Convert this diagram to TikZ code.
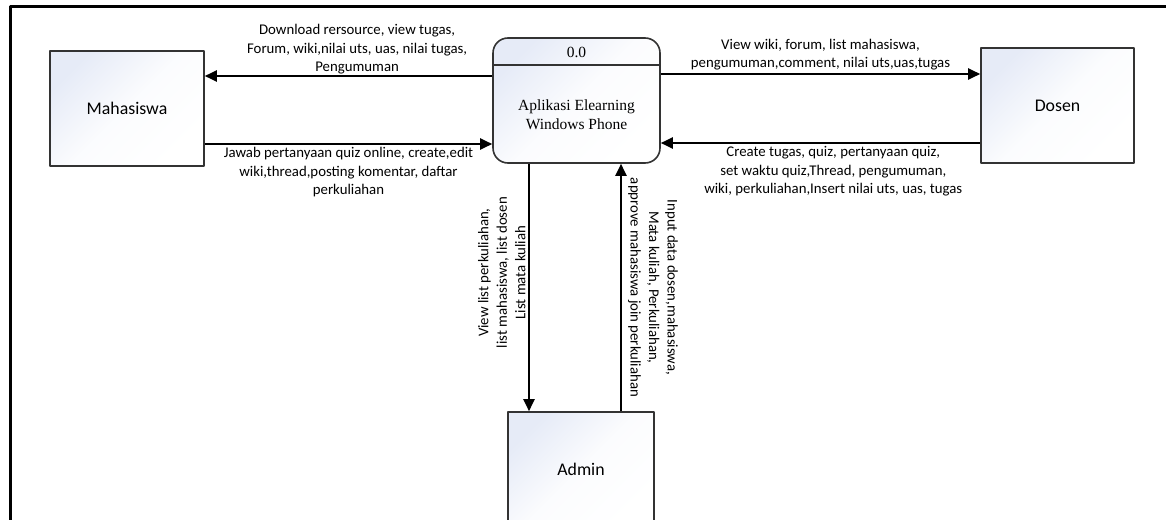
\documentclass[tikz,border=0pt]{standalone}
\usepackage{fontspec}
\setmainfont{Carlito}
\newfontfamily\procfont{Liberation Serif}
\usetikzlibrary{arrows.meta}
\definecolor{boxtint}{HTML}{E6EBF7}
\tikzset{
  entity/.style={draw=black!80, line width=1.6pt, minimum width=#1, minimum height=115pt,
    inner sep=0pt, top color=boxtint, bottom color=white, middle color=boxtint!15!white,
    shading angle=45, font=\fontsize{17.8}{20}\selectfont},
  entity/.default=154pt,
  proclabel/.style={font=\procfont\fontsize{15.5}{19}\selectfont, align=center, inner sep=0pt},
  flow/.style={line width=2pt, ->},
  flowtext/.style={font=\fontsize{14.8}{18.5}\selectfont, align=center, inner sep=2.5pt},
}
\begin{document}
\begin{tikzpicture}[x=1pt, y=-1pt, >={Triangle[length=12pt,width=11pt]}, line join=round]
  \useasboundingbox (0,0) rectangle (1166,519);
  \clip (0,0) rectangle (1166,519);
  % outer frame (open to the right and bottom)
  \draw[line width=3pt] (10,560) -- (10,7) -- (1200,7);
  % external entities
  \node[entity] (mhs) at (127,108.5) {Mahasiswa};
  \node[entity=153pt] (dsn) at (1057.5,105.5) {Dosen};
  \node[entity=146pt] (adm) at (581,469.5) {Admin};
  % process
  \node[entity=167pt, minimum height=125pt, rounded corners=15pt] (proc) at (576.5,100.5) {};
  \draw[line width=1.6pt, black!80] (proc.west |- 0,65) -- (proc.east |- 0,65);
  \node[proclabel] (procid) at (576.5,52) {0.0};
  \node[proclabel] (procname) at (576.5,114.5) {Aplikasi Elearning\\Windows Phone};
  % data flows
  \draw[flow] (proc.west |- 0,76) -- (mhs.east |- 0,76)
    node[flowtext, pos=0.47, above, yshift=-2pt] (f1) {Download rersource, view tugas,\\Forum, wiki,nilai uts, uas, nilai tugas,\\Pengumuman};
  \draw[flow] (mhs.east |- 0,144) -- (proc.west |- 0,144)
    node[flowtext, midway, below] (f2) {Jawab pertanyaan quiz online, create,edit\\wiki,thread,posting komentar, daftar\\perkuliahan};
  \draw[flow] (proc.east |- 0,74) -- (dsn.west |- 0,74)
    node[flowtext, midway, above] (f3) {View wiki, forum, list mahasiswa,\\pengumuman,comment, nilai uts,uas,tugas};
  \draw[flow] (dsn.west |- 0,143) -- (proc.east |- 0,143)
    node[flowtext, pos=0.46, below] (f4) {Create tugas, quiz, pertanyaan quiz,\\set waktu quiz,Thread, pengumuman,\\wiki, perkuliahan,Insert nilai uts, uas, tugas};
  \draw[flow] (proc.south -| 529,0) -- (adm.north -| 529,0)
    node[flowtext, pos=0.44, rotate=90, anchor=south] (f5) {View list perkuliahan,\\list mahasiswa, list dosen\\List mata kuliah};
  \draw[flow] (adm.north -| 621,0) -- (proc.south -| 621,0)
    node[flowtext, midway, rotate=-90, anchor=south, inner sep=6pt] (f6) {Input data dosen,mahasiswa,\\Mata kuliah, Perkuliahan,\\approve mahasiswa join perkuliahan};
\end{tikzpicture}
\end{document}
